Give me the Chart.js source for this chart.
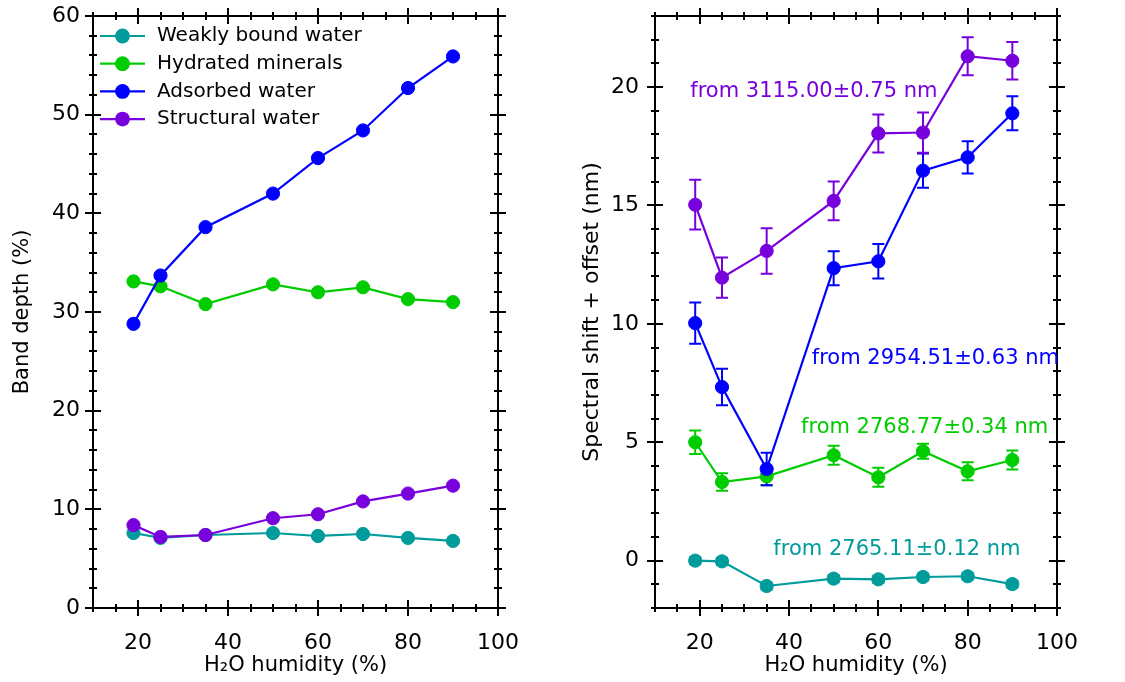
<!DOCTYPE html>
<html><head><meta charset="utf-8">
<script src="https://cdn.jsdelivr.net/npm/chart.js@4.4.0/dist/chart.umd.min.js"></script>
<style>
html,body{margin:0;padding:0;background:#fff;}
#wrap{position:relative;width:1125px;height:682px;background:#fff;}
.box{position:absolute;top:0;height:682px;}
</style></head><body>
<div id="wrap">
<div class="box" style="left:0;width:560px"><canvas id="c1"></canvas></div>
<div class="box" style="left:560px;width:565px"><canvas id="c2"></canvas></div>
</div>
<script>
// ---------- data ----------
const humidity = [19, 25, 35, 50, 60, 70, 80, 90];
const seriesNames = ['Weakly bound water', 'Hydrated minerals', 'Adsorbed water', 'Structural water'];

// left panel: band depth (%)
const bandWeakly     = [7.6, 7.1, 7.4, 7.6, 7.3, 7.5, 7.1, 6.8];
const bandHydrated   = [33.1, 32.6, 30.8, 32.8, 32.0, 32.5, 31.3, 31.0];
const bandAdsorbed   = [28.8, 33.7, 38.6, 42.0, 45.6, 48.4, 52.7, 55.9];
const bandStructural = [8.4, 7.2, 7.4, 9.1, 9.5, 10.8, 11.6, 12.4];

// right panel: spectral shift + offset (nm) and error bars
const shiftWeakly     = [0.0, -0.03, -1.07, -0.76, -0.79, -0.69, -0.66, -0.99];
const errWeakly       = [0.15, 0.15, 0.15, 0.15, 0.15, 0.15, 0.15, 0.15];
const shiftHydrated   = [5.0, 3.32, 3.56, 4.45, 3.52, 4.62, 3.77, 4.25];
const errHydrated     = [0.5, 0.37, 0.38, 0.4, 0.4, 0.32, 0.38, 0.4];
const shiftAdsorbed   = [10.03, 7.33, 3.87, 12.35, 12.64, 16.47, 17.03, 18.89];
const errAdsorbed     = [0.87, 0.77, 0.69, 0.72, 0.73, 0.72, 0.68, 0.72];
const shiftStructural = [15.03, 11.95, 13.08, 15.19, 18.04, 18.08, 21.3, 21.11];
const errStructural   = [1.05, 0.85, 0.96, 0.82, 0.8, 0.85, 0.8, 0.79];

const annotationTexts = ['from 2765.11\u00b10.12 nm', 'from 2768.77\u00b10.34 nm', 'from 2954.51\u00b10.63 nm', 'from 3115.00\u00b10.75 nm'];

// tick labels
const xTickValues = [20, 40, 60, 80, 100];
const leftYTickValues = [0, 10, 20, 30, 40, 50, 60];
const rightYTickValues = [0, 5, 10, 15, 20];

// ---------- styles ----------
const colors = ['#009b9b', '#00cc00', '#0000ff', '#7700dd'];
const FAMILY = 'DejaVu Sans';
const TICKFONT = {family: FAMILY, size: 22};
const TITLEFONT = {family: FAMILY, size: 21};
const pts = v => humidity.map((x, i) => ({x: x, y: v[i]}));

function makeDatasets(arrs, errs) {
  return arrs.map((a, i) => ({
    label: seriesNames[i],
    data: pts(a),
    errors: errs ? errs[i] : null,
    borderColor: colors[i],
    backgroundColor: colors[i],
    pointBackgroundColor: colors[i],
    pointBorderColor: colors[i],
    pointRadius: 6.6,
    pointBorderWidth: 1,
    borderWidth: 2.2,
    order: 4 - i,
    tension: 0
  }));
}

// frame + mirrored crossing ticks
const framePlugin = {
  id: 'frame',
  afterDraw(chart, args, o) {
    const {ctx, chartArea: a, scales} = chart;
    const xs = scales.x, ys = scales.y;
    ctx.save();
    ctx.strokeStyle = '#000';
    ctx.lineWidth = 2;
    ctx.strokeRect(a.left, a.top, a.right - a.left, a.bottom - a.top);
    ctx.beginPath();
    const eps = 1e-6;
    for (let v = xs.min; v <= xs.max + eps; v += o.xMinor) {
      const p = Math.round(xs.getPixelForValue(v));
      const major = Math.abs(v / o.xMajor - Math.round(v / o.xMajor)) < eps;
      const len = major ? 8 : 4;
      ctx.moveTo(p, a.bottom + len); ctx.lineTo(p, a.bottom - len);
      ctx.moveTo(p, a.top - len); ctx.lineTo(p, a.top + len);
    }
    const yStart = Math.ceil(ys.min / o.yMinor) * o.yMinor;
    for (let v = yStart; v <= ys.max + eps; v += o.yMinor) {
      const p = Math.round(ys.getPixelForValue(v));
      const major = Math.abs(v / o.yMajor - Math.round(v / o.yMajor)) < eps;
      const len = major ? 8 : 4;
      ctx.moveTo(a.left - len, p); ctx.lineTo(a.left + len, p);
      ctx.moveTo(a.right + len, p); ctx.lineTo(a.right - len, p);
    }
    ctx.stroke();
    ctx.restore();
  }
};

const errorBarPlugin = {
  id: 'errbars',
  beforeDatasetsDraw(chart, args, o) {
    if (!o.enabled) return;
    const {ctx, scales} = chart;
    ctx.save();
    chart.data.datasets.forEach((ds, i) => {
      if (!ds.errors) return;
      const meta = chart.getDatasetMeta(i);
      ctx.strokeStyle = ds.borderColor;
      ctx.lineWidth = 2;
      ctx.beginPath();
      ds.data.forEach((d, j) => {
        const x = meta.data[j].x;
        const y1 = scales.y.getPixelForValue(d.y + ds.errors[j]);
        const y2 = scales.y.getPixelForValue(d.y - ds.errors[j]);
        ctx.moveTo(x, y1); ctx.lineTo(x, y2);
        ctx.moveTo(x - o.cap, y1); ctx.lineTo(x + o.cap, y1);
        ctx.moveTo(x - o.cap, y2); ctx.lineTo(x + o.cap, y2);
      });
      ctx.stroke();
    });
    ctx.restore();
  }
};

const legendPlugin = {
  id: 'insideLegend',
  afterDraw(chart, args, o) {
    if (!o.enabled) return;
    const {ctx, chartArea: a} = chart;
    ctx.save();
    ctx.font = o.fontSize + 'px "' + FAMILY + '"';
    ctx.textBaseline = 'middle';
    ctx.textAlign = 'left';
    chart.data.datasets.forEach((ds, i) => {
      const y = a.top + o.top + i * o.dy;
      const x0 = a.left + o.left;
      ctx.strokeStyle = ds.borderColor;
      ctx.lineWidth = 2.2;
      ctx.beginPath(); ctx.moveTo(x0, y); ctx.lineTo(x0 + o.lineLen, y); ctx.stroke();
      ctx.fillStyle = ds.borderColor;
      ctx.beginPath(); ctx.arc(x0 + o.lineLen / 2, y, 7.4, 0, Math.PI * 2); ctx.fill();
      ctx.fillStyle = '#000';
      ctx.fillText(ds.label, x0 + o.lineLen + o.gap, y);
    });
    ctx.restore();
  }
};

const annotationPlugin = {
  id: 'notes',
  afterDraw(chart, args, o) {
    if (!o.items) return;
    const {ctx, scales} = chart;
    ctx.save();
    ctx.font = '21px "' + FAMILY + '"';
    ctx.textBaseline = 'middle';
    ctx.textAlign = 'left';
    o.items.forEach(it => {
      ctx.fillStyle = colors[it.series];
      ctx.fillText(annotationTexts[it.series], scales.x.getPixelForValue(it.x), scales.y.getPixelForValue(it.y));
    });
    ctx.restore();
  }
};

function baseOptions(cfg) {
  return {
    responsive: true,
    maintainAspectRatio: false,
    animation: false,
    devicePixelRatio: 1,
    layout: {padding: {left: 0, top: 16, right: cfg.padRight, bottom: 0}},
    plugins: {
      legend: {display: false},
      tooltip: {enabled: false},
      frame: {xMinor: 5, xMajor: 20, yMinor: cfg.yMinor, yMajor: cfg.yMajor},
      errbars: {enabled: cfg.errors, cap: 6},
      insideLegend: {enabled: cfg.legend, left: 7, top: 20, dy: 27.7, lineLen: 45, gap: 12, fontSize: 20},
      notes: {items: cfg.notes}
    },
    scales: {
      x: {
        type: 'linear', min: 10, max: 100,
        afterBuildTicks: s => { s.ticks = xTickValues.map(v => ({value: v})); },
        afterFit: s => { s.height = 74; s.paddingLeft = 0; s.paddingRight = 0; },
        grid: {display: false, drawTicks: false},
        border: {display: false},
        ticks: {font: TICKFONT, color: '#000', padding: 22, maxRotation: 0},
        title: {display: true, text: 'H\u2082O humidity (%)', font: TITLEFONT, color: '#000', padding: {top: 0, bottom: 4}}
      },
      y: {
        type: 'linear', min: cfg.yMin, max: cfg.yMax,
        afterBuildTicks: s => { s.ticks = cfg.yTicks.map(v => ({value: v})); },
        afterFit: s => { s.width = cfg.yWidth; s.paddingTop = 0; s.paddingBottom = 0; },
        grid: {display: false, drawTicks: false},
        border: {display: false},
        ticks: {font: TICKFONT, color: '#000', padding: cfg.yPad},
        title: {display: true, text: cfg.yTitle, font: {family: FAMILY, size: cfg.yTitleSize}, color: '#000', padding: {top: cfg.yTitlePad, bottom: 0}}
      }
    }
  };
}

new Chart(document.getElementById('c1'), {
  type: 'line',
  data: {datasets: makeDatasets([bandWeakly, bandHydrated, bandAdsorbed, bandStructural])},
  options: baseOptions({padRight: 62, yMinor: 2, yMajor: 10, yMin: 0, yMax: 60, yTicks: leftYTickValues,
    yWidth: 93, yPad: 13, yTitle: 'Band depth (%)', yTitleSize: 21, yTitlePad: 10, errors: false, legend: true, notes: null}),
  plugins: [errorBarPlugin, framePlugin, legendPlugin, annotationPlugin]
});

new Chart(document.getElementById('c2'), {
  type: 'line',
  data: {datasets: makeDatasets([shiftWeakly, shiftHydrated, shiftAdsorbed, shiftStructural],
                                [errWeakly, errHydrated, errAdsorbed, errStructural])},
  options: baseOptions({padRight: 68, yMinor: 1, yMajor: 5, yMin: -2, yMax: 23, yTicks: rightYTickValues,
    yWidth: 95, yPad: 16, yTitle: 'Spectral shift + offset (nm)', yTitleSize: 22, yTitlePad: 19, errors: true, legend: false,
    notes: [{series: 3, x: 17.9, y: 19.83}, {series: 2, x: 45.1, y: 8.53}, {series: 1, x: 42.7, y: 5.64}, {series: 0, x: 36.5, y: 0.45}]}),
  plugins: [errorBarPlugin, framePlugin, legendPlugin, annotationPlugin]
});
</script>
</body></html>
